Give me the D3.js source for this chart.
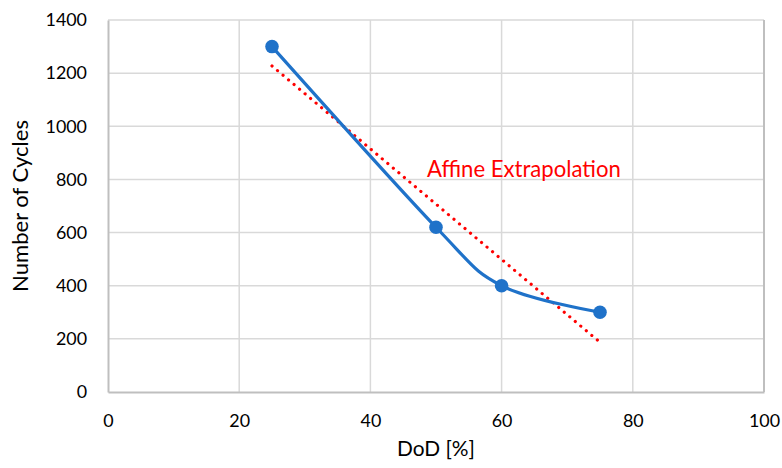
<!DOCTYPE html>
<html><head><meta charset="utf-8">
<script src="https://cdn.jsdelivr.net/npm/d3@7"></script>
<style>body{margin:0;background:#fff;} svg{display:block;}</style>
</head><body>
<svg id="c" width="782" height="468"></svg>
<script>
const dod = [25, 50, 60, 75];
const cycles = [1300, 620, 400, 300];
const fitX = [25, 75];
const fitY = [1227, 187];
const xTicks = [0, 20, 40, 60, 80, 100];
const yTicks = [0, 200, 400, 600, 800, 1000, 1200, 1400];
const xTitle = "DoD [%]";
const yTitle = "Number of Cycles";
const note = "Affine Extrapolation";

const font = "Lato, 'Open Sans', sans-serif";
const svg = d3.select("#c");
const L = 108, R = 764, T = 20, B = 392;
const x = d3.scaleLinear().domain([0, 100]).range([L, R]);
const y = d3.scaleLinear().domain([0, 1400]).range([B, T]);

// size a text so its rendered width matches a target
function fitSize(sel, target) {
  sel.attr("font-size", 20);
  const w = sel.node().getComputedTextLength();
  sel.attr("font-size", 20 * target / w);
}

// gridlines
svg.append("g").selectAll("line").data(yTicks.filter(d => d > 0)).join("line")
  .attr("x1", L).attr("x2", R).attr("y1", d => y(d)).attr("y2", d => y(d))
  .attr("stroke", "#d9d9d9").attr("stroke-width", 1.5);
svg.append("g").selectAll("line").data(xTicks.filter(d => d > 0 && d < 100)).join("line")
  .attr("y1", T).attr("y2", B).attr("x1", d => x(d)).attr("x2", d => x(d))
  .attr("stroke", "#d9d9d9").attr("stroke-width", 1.5);

// measure tick font size
const probe = svg.append("text").attr("font-family", font).text("1400");
fitSize(probe, 41.5);
const tickSize = +probe.attr("font-size");
probe.remove();

// axes
const xAxis = d3.axisBottom(x).tickValues(xTicks).tickFormat(d3.format("d")).tickSize(0);
const gx = svg.append("g").attr("transform", `translate(0,${B})`).call(xAxis);
gx.select(".domain").attr("stroke", "#bfbfbf").attr("stroke-width", 2);
gx.selectAll("text").attr("font-family", font).attr("font-size", tickSize).attr("fill", "#000")
  .attr("y", 35).attr("dy", 0);
const yAxis = d3.axisLeft(y).tickValues(yTicks).tickFormat(d3.format("d")).tickSize(0).tickPadding(21);
const gy = svg.append("g").attr("transform", `translate(${L},0)`).call(yAxis);
gy.select(".domain").attr("stroke", "#bfbfbf").attr("stroke-width", 2);
gy.selectAll("text").attr("font-family", font).attr("font-size", tickSize).attr("fill", "#000");
// right border
svg.append("line").attr("x1", R).attr("x2", R).attr("y1", T).attr("y2", B)
  .attr("stroke", "#bfbfbf").attr("stroke-width", 2);

// titles
const xt = svg.append("text").attr("x", (L + R) / 2).attr("y", 456).attr("text-anchor", "middle")
  .attr("font-family", font).text(xTitle);
fitSize(xt, 78);
const yt = svg.append("text").attr("transform", `translate(28,${(T + B) / 2}) rotate(-90)`)
  .attr("text-anchor", "middle").attr("font-family", font).text(yTitle);
fitSize(yt, 172);

// affine extrapolation (dotted)
const fit = fitX.map((v, i) => [v, fitY[i]]);
svg.append("path").datum(fit)
  .attr("d", d3.line().x(d => x(d[0])).y(d => y(d[1])))
  .attr("fill", "none").attr("stroke", "#ff0000").attr("stroke-width", 3.2)
  .attr("stroke-linecap", "round").attr("stroke-dasharray", "0.01 7.2");

// data curve
const pts = dod.map((v, i) => [v, cycles[i]]);
svg.append("path").datum(pts)
  .attr("d", d3.line().x(d => x(d[0])).y(d => y(d[1])).curve(d3.curveCardinal.tension(0)))
  .attr("fill", "none").attr("stroke", "#1f72c9").attr("stroke-width", 3.2);
svg.append("g").selectAll("circle").data(pts).join("circle")
  .attr("cx", d => x(d[0])).attr("cy", d => y(d[1])).attr("r", 6.8).attr("fill", "#1f72c9");

const nt = svg.append("text").attr("x", 427).attr("y", 177).attr("fill", "#ff0000")
  .attr("font-family", font).text(note);
fitSize(nt, 194);
</script>
</body></html>
